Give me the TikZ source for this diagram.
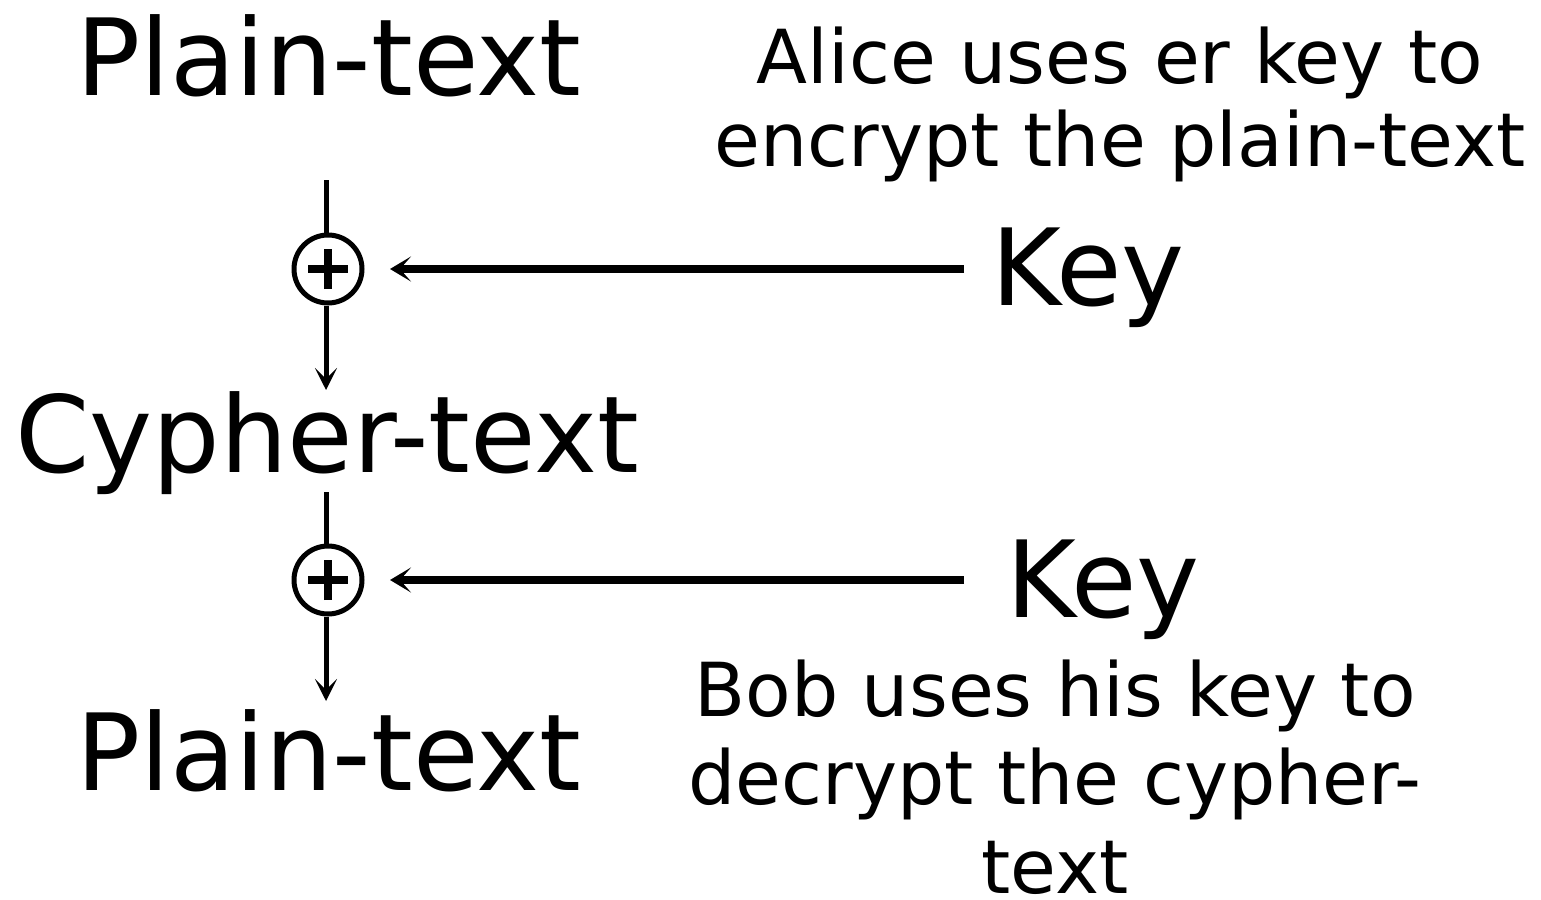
\documentclass[tikz,border=0pt]{standalone}
\usepackage{fontspec}
\setmainfont{DejaVu Sans}
\usetikzlibrary{arrows.meta}
\begin{document}
\begin{tikzpicture}[x=1pt,y=-1pt,
  big/.style={inner sep=0pt,anchor=base,font=\fontsize{106.5}{122}\selectfont},
  note/.style={inner sep=0pt,anchor=base,align=center},
  xorgate/.style={circle,draw,line width=5pt,minimum size=68pt,inner sep=0pt},
  flow/.style={line width=5pt,-{Stealth[length=22pt,width=22pt,inset=11pt]}},
  keyline/.style={line width=7.5pt,-{Stealth[length=21pt,width=25pt,inset=11pt]}}]
\useasboundingbox (0,0) rectangle (1541,899);

% texts (base anchor of a multi-line node sits on its last line)
\node[big] (p1) at (329,95) {Plain-text};
\node[big] (c) at (327,472) {Cypher-text};
\node[big] (p2) at (329,790) {Plain-text};
\node[big] (k1) at (1088,305) {Key};
\node[big] (k2) at (1103,617) {Key};
\node[note,font=\fontsize{74.5}{83}\selectfont] (alice) at (1120,166)
  {Alice uses er key to\\encrypt the plain-text};
\node[note,font=\fontsize{74.5}{88.5}\selectfont] (bob) at (1055,893)
  {Bob uses his key to\\decrypt the cypher-\\text};

% XOR gates
\node[xorgate] (x1) at (328,269) {};
\node[xorgate] (x2) at (328,580) {};
\foreach \g in {x1,x2}{
  \draw[line width=7.5pt] ([xshift=-20pt]\g.center) -- ([xshift=20pt]\g.center);
  \draw[line width=7.5pt] ([yshift=-20pt]\g.center) -- ([yshift=20pt]\g.center);
}

% vertical flow
\coordinate (t1) at (326,180);
\coordinate (e1) at (326,390);
\coordinate (t2) at (326,492);
\coordinate (e2) at (326,701);
\draw[line width=5pt] (t1) -- (t1 |- x1.north);
\draw[flow] (e1 |- x1.south) -- (e1);
\draw[line width=5pt] (t2) -- (t2 |- x2.north);
\draw[flow] (e2 |- x2.south) -- (e2);

% key inputs
\coordinate (s1) at (964,269);
\coordinate (s2) at (964,580);
\draw[keyline] (s1) -- (390,269);
\draw[keyline] (s2) -- (390,580);
\end{tikzpicture}
\end{document}
